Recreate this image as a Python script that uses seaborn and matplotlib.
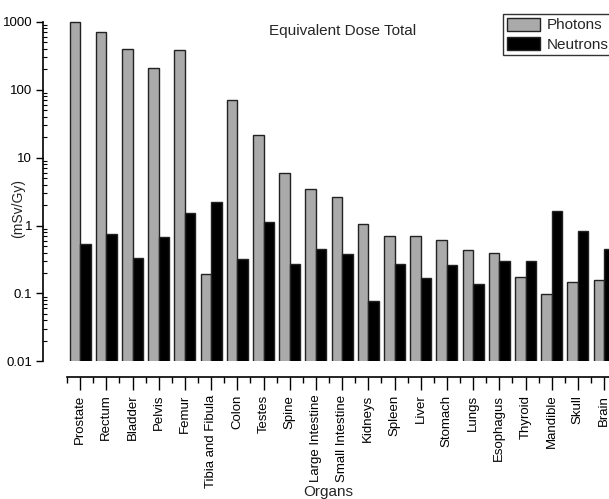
import numpy as np
import pandas as pd
import matplotlib
matplotlib.use("Agg")
import matplotlib.pyplot as plt
from matplotlib.ticker import FixedLocator, NullFormatter
from matplotlib.patches import Patch
import seaborn as sns

organs = ["Prostate", "Rectum", "Bladder", "Pelvis", "Femur", "Tibia and Fibula",
          "Colon", "Testes", "Spine", "Large Intestine", "Small Intestine", "Kidneys",
          "Spleen", "Liver", "Stomach", "Lungs", "Esophagus", "Thyroid", "Mandible",
          "Skull", "Brain"]
photons = [990, 720, 400, 210, 387, 0.19, 71, 21.9, 6.0, 3.47, 2.61, 1.06,
           0.69, 0.70, 0.62, 0.43, 0.40, 0.177, 0.097, 0.146, 0.155]
neutrons = [0.54, 0.76, 0.33, 0.68, 1.54, 2.23, 0.32, 1.13, 0.27, 0.45, 0.38, 0.078,
            0.27, 0.167, 0.26, 0.138, 0.30, 0.305, 1.62, 0.83, 0.45]
series = ["Photons", "Neutrons"]
colors = {"Photons": "#AAAAAA", "Neutrons": "#000000"}
yticks = [0.01, 0.1, 1, 10, 100, 1000]
ytick_labels = ["0.01", "0.1", "1", "10", "100", "1000"]

sns.set_style("ticks")
plt.rcParams["font.family"] = ["Liberation Sans", "DejaVu Sans"]

df = pd.DataFrame({
    "Organ": organs * 2,
    "Source": [series[0]] * len(organs) + [series[1]] * len(organs),
    "Dose": photons + neutrons,
})

W, H = 609, 499
fig = plt.figure(figsize=(W / 100, H / 100), dpi=100)
ax = fig.add_axes([67 / W, (H - 361.3) / H, 550.2 / W, 351.0 / H])

sns.barplot(data=df, x="Organ", y="Dose", hue="Source", palette=colors,
            hue_order=series, width=0.8, edgecolor="#222222", linewidth=1.0,
            errorbar=None, legend=False, ax=ax, saturation=1)

ax.set_yscale("log")
ax.set_ylim(0.01, 10 ** 3.17)
ax.set_xlim(-0.5, 20.5)

ax.yaxis.set_major_locator(FixedLocator(yticks))
ax.set_yticklabels(ytick_labels)
minors = [m * 10.0 ** e for e in range(-2, 3) for m in range(2, 10)]
ax.yaxis.set_minor_locator(FixedLocator(minors))
ax.yaxis.set_minor_formatter(NullFormatter())
ax.tick_params(axis="y", which="major", direction="out", length=5, width=1, pad=3,
               colors="black", labelsize=9.5)
ax.tick_params(axis="y", which="minor", direction="in", length=3, width=0.8, colors="black")

ax.xaxis.set_major_locator(FixedLocator(list(range(len(organs)))))
ax.set_xticklabels(organs)
ax.xaxis.set_minor_locator(FixedLocator(list(np.arange(-0.5, len(organs), 1.0))))
ax.tick_params(axis="x", which="major", direction="out", length=9, width=1, pad=4,
               colors="black", labelsize=9.5, labelrotation=90)
ax.tick_params(axis="x", which="minor", direction="out", length=4, width=1, colors="black")
for lab in ax.get_xticklabels():
    lab.set_rotation(90)
    lab.set_ha("center")
    lab.set_va("top")

for s in ["top", "right"]:
    ax.spines[s].set_visible(False)
ax.spines["left"].set_position(("outward", 17))
ax.spines["left"].set_bounds(0.01, 1000)
ax.spines["bottom"].set_position(("outward", 11))
ax.spines["bottom"].set_bounds(-0.5, 20.5)
for s in ["left", "bottom"]:
    ax.spines[s].set_color("black")
    ax.spines[s].set_linewidth(1.2)

ax.set_xlabel("")
ax.set_ylabel("")

fig.text(342.5 / W, 1 - 31 / H, "Equivalent Dose Total", ha="center", va="center", fontsize=11)
fig.text(18 / W, 1 - 208.5 / H, "(mSv/Gy)", ha="center", va="center", rotation=90, fontsize=10)
fig.text(328 / W, 1 - 492 / H, "Organs", ha="center", va="center", fontsize=11)

handles = [Patch(facecolor=colors[s], edgecolor="#222222", linewidth=1.0, label=s) for s in series]
leg = fig.legend(handles=handles, loc="upper left", bbox_to_anchor=(503 / W, 1 - 14 / H),
                 bbox_transform=fig.transFigure, fontsize=11, frameon=True, fancybox=False,
                 handlelength=2.2, handleheight=0.9, handletextpad=0.4, labelspacing=0.3,
                 borderpad=0.25, borderaxespad=0)
leg.get_frame().set_edgecolor("black")
leg.get_frame().set_linewidth(1.0)

fig.savefig("out.png", dpi=100)
